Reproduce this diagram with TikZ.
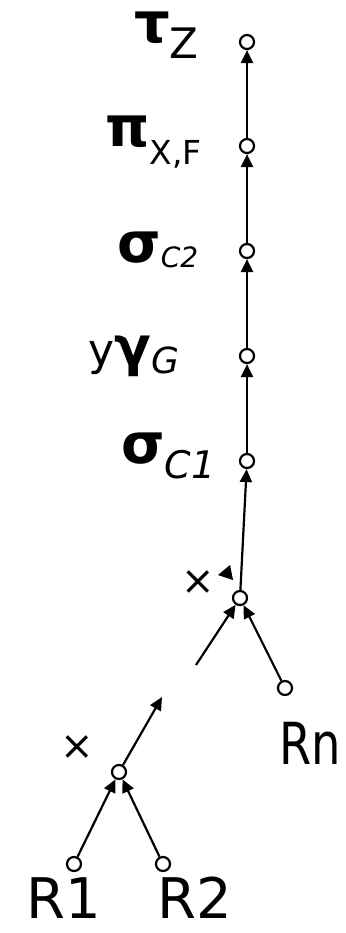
\documentclass[tikz,border=0pt]{standalone}
\usepackage{fontspec}
\setmainfont{DejaVu Sans}
\usetikzlibrary{arrows.meta}
\newcommand{\fs}[1]{\fontsize{#1}{#1}\selectfont}
\newcommand{\sub}[3]{\raisebox{-#1pt}{\fs{#2}#3}}
\tikzset{
  vtx/.style={circle,draw,fill=white,line width=2.2pt,minimum size=14pt,inner sep=0pt},
  lbl/.style={inner sep=0pt,anchor=base west},
  edge/.style={line width=2.2pt,-{Triangle[length=13pt,width=12pt]}},
}
\begin{document}
\begin{tikzpicture}[x=1pt,y=-1pt]
\useasboundingbox (0,0) rectangle (345,933);
% vertices
\node[vtx] (T)  at (247,42)  {};
\node[vtx] (P)  at (247,146) {};
\node[vtx] (S2) at (247,251) {};
\node[vtx] (G)  at (247,356) {};
\node[vtx] (S1) at (247,461) {};
\node[vtx] (X2) at (240,598) {};
\node[vtx] (Rn) at (285,688) {};
\node[vtx] (X1) at (119,772) {};
\node[vtx] (R1) at (74,864)  {};
\node[vtx] (R2) at (163,864) {};
\coordinate (loose1) at (196,665);
\coordinate (loose2) at (162,697);
% labels
\node[lbl] (lT) at (134,43) {\fs{56}\bfseries τ\sub{16}{42}{\mdseries Z}};
\node[lbl] (lP) at (105,147) {\fs{56}\bfseries π\sub{18}{33}{\mdseries X,F}};
\node[lbl] (lS2) at (117,262) {\fs{56}\bfseries σ\sub{5}{28}{\mdseries\itshape C2}};
\node[lbl] (lG) at (88,365) {\fs{44}y{\fs{54}\bfseries γ}\sub{8}{36}{\itshape G}};
\node[lbl] (lS1) at (121,463) {\fs{56}\bfseries σ\sub{15}{38}{\mdseries\itshape C1}};
\node[lbl] (lRn) at (279,764) {\scalebox{0.8}[1]{\fs{58}Rn}};
\node[lbl] (lR1) at (26,918) {\fs{56}R1};
\node[lbl] (lR2) at (157,918) {\fs{56}R2};
\node (x2) at (198,583) {\fs{40}×};
\node (x1) at (77,748) {\fs{40}×};
% edges
\draw[edge] (P) -- (T);
\draw[edge] (S2) -- (P);
\draw[edge] (G) -- (S2);
\draw[edge] (S1) -- (G);
\draw[edge] (X2) -- (S1);
\draw[edge] (loose1) -- (X2);
\draw[edge] (Rn) -- (X2);
\draw[edge] (X1) -- (loose2);
\draw[edge] (R1) -- (X1);
\draw[edge] (R2) -- (X1);
% stray arrowhead
\fill (230,565) -- (218,575) -- (233,580) -- cycle;
\end{tikzpicture}
\end{document}
